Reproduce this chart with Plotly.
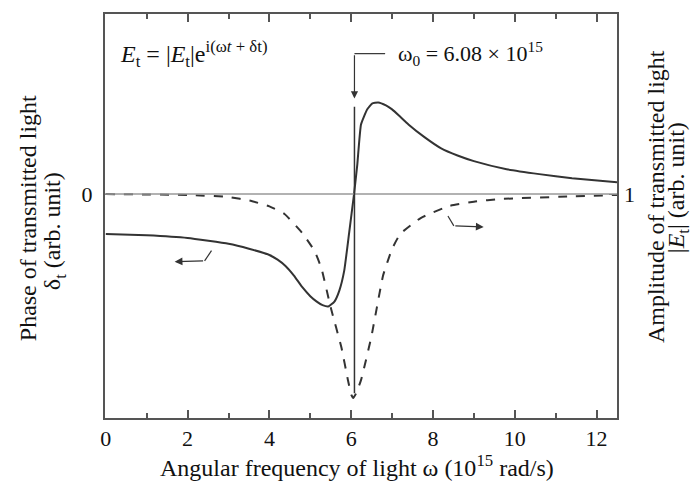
import plotly.graph_objects as go

# ---- data ----
phase_x = [0, 1, 2, 3, 3.5, 4.0, 4.2, 4.4, 4.6, 4.8, 5.0, 5.15, 5.3, 5.44, 5.59, 5.71, 5.83, 5.95, 6.07,
           6.15, 6.24, 6.39, 6.51, 6.66, 6.85, 7.0, 7.2, 7.4, 7.8, 8.2, 8.6, 9.0, 9.8, 10.6, 11.4, 12.5]
phase_y = [-0.178, -0.184, -0.196, -0.222, -0.244, -0.272, -0.293, -0.322, -0.364, -0.415, -0.456,
           -0.479, -0.496, -0.502, -0.480, -0.431, -0.342, -0.173, 0.0,
           0.133, 0.311, 0.378, 0.404, 0.409, 0.396, 0.378, 0.345, 0.311, 0.253, 0.204, 0.172,
           0.147, 0.111, 0.089, 0.071, 0.053]

amp_x = [0, 2, 3, 3.56, 4.0, 4.37, 4.8, 5.1, 5.27, 5.5, 5.76, 5.92, 6.0, 6.05, 6.12, 6.24, 6.49, 6.78,
         7.0, 7.2, 7.7, 8.4, 9.0, 9.66, 11.3, 12.5]
amp_y = [1.0, 0.996, 0.987, 0.969, 0.945, 0.911, 0.827, 0.747, 0.670, 0.493, 0.316, 0.17, 0.105, 0.089,
         0.11, 0.169, 0.36, 0.636, 0.755, 0.822, 0.893, 0.947, 0.966, 0.978, 0.989, 0.996]

omega0 = 6.08
x_ticks = [0, 2, 4, 6, 8, 10, 12]

FONT = "Liberation Serif, Times New Roman, serif"
INK = "#333333"
FRAME = "#555555"
TXT = "#111111"

fig = go.Figure()
fig.add_trace(go.Scatter(x=phase_x, y=phase_y, mode="lines",
                         line=dict(color=INK, width=2, shape="spline", smoothing=0.4),
                         yaxis="y", showlegend=False, hoverinfo="skip"))
fig.add_trace(go.Scatter(x=amp_x, y=amp_y, mode="lines",
                         line=dict(color=INK, width=2, dash="dash", shape="spline", smoothing=0.4),
                         yaxis="y2", showlegend=False, hoverinfo="skip"))
# invisible helper trace so the top (mirror) axis with minor ticks is drawn
fig.add_trace(go.Scatter(x=[0], y=[0], xaxis="x2", yaxis="y", mode="markers",
                         marker=dict(opacity=0), showlegend=False, hoverinfo="skip"))

# zero line and omega0 marker
fig.add_shape(type="line", xref="paper", x0=0, x1=1, yref="y", y0=0, y1=0,
              line=dict(color="#999999", width=1.5))
fig.add_shape(type="line", xref="x", x0=omega0, x1=omega0, yref="y", y0=0.39, y1=-0.89,
              line=dict(color=INK, width=1.5))

# omega0 label bracket + arrow
fig.add_shape(type="line", x0=omega0, x1=6.83, y0=0.627, y1=0.627, xref="x", yref="y",
              line=dict(color=INK, width=1.2))
fig.add_annotation(x=omega0, y=0.427, ax=omega0, ay=0.627, xref="x", yref="y", axref="x", ayref="y",
                   showarrow=True, arrowhead=2, arrowsize=1.2, arrowwidth=1.2, arrowcolor=INK, text="")
fig.add_annotation(x=7.1, y=0.627, xref="x", yref="y", xanchor="left", yanchor="middle", showarrow=False,
                   text="ω<sub>0</sub> = 6.08 × 10<sup>15</sup>", font=dict(family=FONT, size=22, color=TXT))

# equation
fig.add_annotation(x=0.3, y=0.627, xref="x", yref="y", xanchor="left", yanchor="middle", showarrow=False,
                   text="<i>E</i><sub>t</sub> = |<i>E</i><sub>t</sub>|e<sup>i(ω<i>t</i> + δt)</sup>",
                   font=dict(family=FONT, size=24, color=TXT))

# bent arrows indicating axes
fig.add_shape(type="line", x0=2.585, y0=-0.253, x1=2.415, y1=-0.298, xref="x", yref="y",
              line=dict(color=INK, width=1.2))
fig.add_annotation(x=1.683, y=-0.302, ax=2.415, ay=-0.298, xref="x", yref="y", axref="x", ayref="y",
                   showarrow=True, arrowhead=2, arrowsize=1.3, arrowwidth=1.2, arrowcolor=INK, text="")
fig.add_shape(type="line", x0=8.366, y0=-0.098, x1=8.51, y1=-0.142, xref="x", yref="y",
              line=dict(color=INK, width=1.2))
fig.add_annotation(x=9.24, y=-0.147, ax=8.51, ay=-0.142, xref="x", yref="y", axref="x", ayref="y",
                   showarrow=True, arrowhead=2, arrowsize=1.3, arrowwidth=1.2, arrowcolor=INK, text="")

# axis titles
TF = dict(family=FONT, size=24, color=TXT)
fig.add_annotation(x=0.492, y=-0.118, xref="paper", yref="paper", xanchor="center", yanchor="middle",
                   showarrow=False, text="Angular frequency of light ω (10<sup>15</sup> rad/s)", font=TF)
fig.add_annotation(x=-0.150, y=0.495, xref="paper", yref="paper", xanchor="center", yanchor="middle",
                   showarrow=False, textangle=-90, text="Phase of transmitted light", font=TF)
fig.add_annotation(x=-0.098, y=0.462, xref="paper", yref="paper", xanchor="center", yanchor="middle",
                   showarrow=False, textangle=-90, text="δ<sub>t</sub> (arb. unit)", font=TF)
fig.add_annotation(x=1.076, y=0.549, xref="paper", yref="paper", xanchor="center", yanchor="middle",
                   showarrow=False, textangle=-90, text="Amplitude of transmitted light", font=TF)
fig.add_annotation(x=1.118, y=0.570, xref="paper", yref="paper", xanchor="center", yanchor="middle",
                   showarrow=False, textangle=-90, text="|<i>E</i><sub>t</sub>| (arb. unit)", font=TF)

fig.update_layout(
    width=692, height=490,
    margin=dict(l=105, r=75, t=12, b=72),
    paper_bgcolor="white", plot_bgcolor="white",
    font=dict(family=FONT, size=22, color=TXT),
    xaxis=dict(range=[-0.02, 12.5], tickvals=x_ticks, ticks="inside", ticklen=8, tickwidth=1.5,
               tickcolor=FRAME, showgrid=False, zeroline=False, showline=True, linecolor=FRAME,
               linewidth=2, mirror=True,
               minor=dict(dtick=1, tick0=0, ticks="inside", ticklen=5, tickwidth=1.5, tickcolor=FRAME,
                          showgrid=False),
               tickfont=dict(family=FONT, size=22)),
    xaxis2=dict(range=[-0.02, 12.5], overlaying="x", side="top", tickvals=x_ticks, ticks="inside",
                ticklen=8, tickwidth=1.5, tickcolor=FRAME, showticklabels=False, showgrid=False,
                zeroline=False, showline=False,
                minor=dict(dtick=1, tick0=0, ticks="inside", ticklen=5, tickwidth=1.5, tickcolor=FRAME,
                           showgrid=False)),
    yaxis=dict(range=[-1, 0.804], tickvals=[0], ticktext=["0"], ticks="inside", ticklen=8,
               tickcolor=FRAME, showgrid=False, zeroline=False, showline=True, linecolor=FRAME,
               linewidth=2, mirror=True, ticklabelstandoff=6, tickfont=dict(family=FONT, size=22)),
    yaxis2=dict(range=[0, 1.804], tickvals=[1], ticktext=["1"], ticks="inside", ticklen=8,
                tickcolor=FRAME, overlaying="y", side="right", showgrid=False, zeroline=False,
                showline=False, ticklabelstandoff=6, tickfont=dict(family=FONT, size=22)),
)

fig.write_html("out.html")
